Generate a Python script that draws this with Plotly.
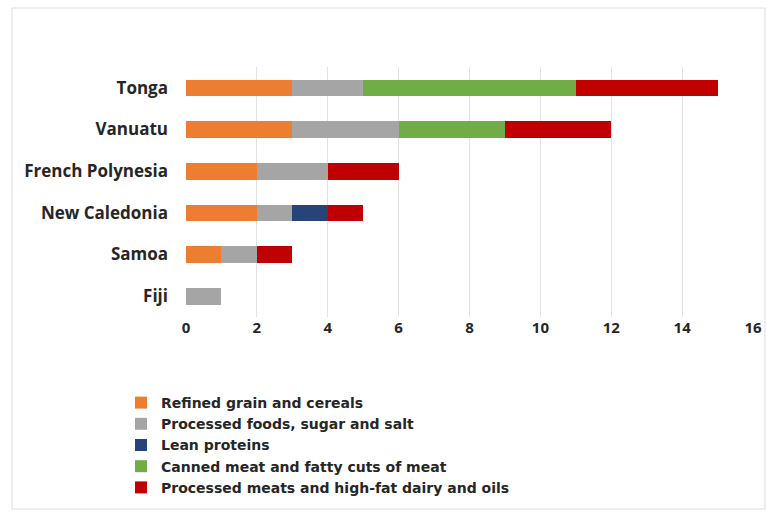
import plotly.graph_objects as go

countries = ["Tonga", "Vanuatu", "French Polynesia", "New Caledonia", "Samoa", "Fiji"]

refined_grain = [3, 3, 2, 2, 1, 0]
processed_foods = [2, 3, 2, 1, 1, 1]
lean_proteins = [0, 0, 0, 1, 0, 0]
canned_meat = [6, 3, 0, 0, 0, 0]
processed_meats = [4, 3, 2, 1, 1, 0]

series = [
    ("Refined grain and cereals", refined_grain, "#ED7D31"),
    ("Processed foods, sugar and salt", processed_foods, "#A5A5A5"),
    ("Lean proteins", lean_proteins, "#264478"),
    ("Canned meat and fatty cuts of meat", canned_meat, "#70AD47"),
    ("Processed meats and high-fat dairy and oils", processed_meats, "#C00000"),
]

x_ticks = [0, 2, 4, 6, 8, 10, 12, 14, 16]

fig = go.Figure()
for name, values, color in series:
    fig.add_trace(go.Bar(
        y=countries, x=values, name=name, orientation="h",
        marker=dict(color=color, line=dict(width=0)),
    ))

font_family = "'Open Sans', sans-serif"
legend_family = "'DejaVu Sans', sans-serif"
text_color = "#262626"

W, H = 766, 512
L, R, T, B = 186, 13, 67, 195
pw, ph = W - L - R, H - T - B

fig.update_layout(
    barmode="stack",
    bargap=0.6,
    width=W, height=H,
    margin=dict(l=L, r=R, t=T, b=B, autoexpand=False),
    paper_bgcolor="white", plot_bgcolor="white",
    font=dict(family=font_family, color=text_color),
    xaxis=dict(
        range=[0, 16], tickvals=x_ticks, ticktext=[str(t) for t in x_ticks],
        showgrid=True, gridcolor="#E2E2E2", gridwidth=1,
        zeroline=False, showline=False,
        tickfont=dict(size=15, family=font_family, weight="bold", color=text_color),
        ticks="", ticklen=0,
    ),
    yaxis=dict(
        categoryorder="array", categoryarray=countries[::-1],
        showgrid=False, zeroline=False, showline=False,
        tickfont=dict(size=17, family=font_family, weight="bold", color=text_color),
        ticks="", ticklen=0, ticklabelstandoff=17,
    ),
    legend=dict(
        orientation="v", traceorder="normal",
        xref="container", yref="container",
        x=121 / W, y=1 - 387 / H, xanchor="left", yanchor="top",
        font=dict(size=14, family=legend_family, weight="bold", color=text_color),
        itemwidth=30, tracegroupgap=0,
    ),
    showlegend=True,
    shapes=[dict(
        type="rect", xref="paper", yref="paper",
        x0=(12 - L) / pw, x1=(765 - L) / pw,
        y0=-(509 - (H - B)) / ph, y1=1 + (T - 8) / ph,
        line=dict(color="#DDDDDD", width=1), fillcolor="rgba(0,0,0,0)",
        layer="below",
    )],
)

fig.write_html("out.html")
